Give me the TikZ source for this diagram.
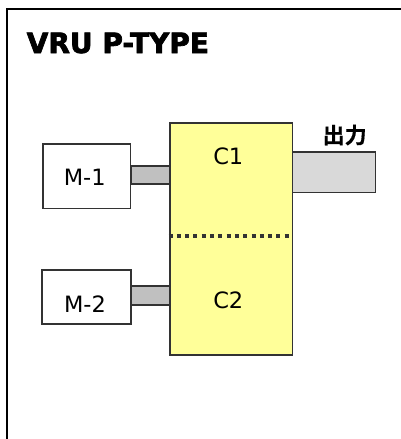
\documentclass[tikz,border=0pt]{standalone}
\usepackage{fontspec}
\setmainfont{DejaVu Sans}
\newfontfamily\heavyfont{DejaVu Sans Bold}[FakeBold=2.5]
\newfontfamily\cjk{Noto Sans CJK JP Bold}[FakeBold=0.6]
\definecolor{cyellow}{HTML}{FFFF99}
\definecolor{bargray}{HTML}{C0C0C0}
\definecolor{outgray}{HTML}{D9D9D9}
\definecolor{edge}{HTML}{333333}
\begin{document}
\begin{tikzpicture}[x=1pt,y=-1pt,
  box/.style={draw=edge,line width=1.2pt,inner sep=0pt,anchor=center},
  mbox/.style={box,fill=white},
  cbox/.style={box,fill=cyellow},
  bar/.style={box,fill=bargray},
  outbar/.style={box,fill=outgray},
  lbl/.style={inner sep=0pt,font=\fontsize{22.5}{24}\selectfont,text=black}]
\useasboundingbox (0,0) rectangle (401,439);
% frame (extends beyond the picture)
\draw[line width=2pt,black] (6.5,460) -- (6.5,8.5) -- (420,8.5);
% title
\node[inner sep=0pt,anchor=west,font=\heavyfont\fontsize{28}{30}\selectfont] (title) at (26.5,43) {VRU P-TYPE};
% main yellow block
\node[cbox,minimum width=122.5pt,minimum height=232pt] (c) at (231.25,239) {};
% motors
\node[mbox,minimum width=87.5pt,minimum height=64.7pt] (m1) at (86.75,176.35) {};
\node[mbox,minimum width=89pt,minimum height=54pt] (m2) at (86.5,297) {};
% shaft bars
\node[bar,minimum width=39pt,minimum height=18pt] (s1) at (150.5,175) {};
\node[bar,minimum width=39pt,minimum height=19pt] (s2) at (150.5,295.5) {};
% output bar
\node[outbar,minimum width=83pt,minimum height=40.7pt] (out) at (334,172.35) {};
% dotted divider
\coordinate (dl) at (168.5,235.5);
\coordinate (dr) at (291,235.5);
\draw[edge,line width=4pt,dash pattern=on 4pt off 4.3pt] (dl) -- (dr);
% labels
\node[lbl] (t1) at (228.3,156.7) {C1};
\node[lbl] (t2) at (228.3,300.3) {C2};
\node[lbl] (tm1) at (84.7,177.2) {M-1};
\node[lbl] (tm2) at (85,303.7) {M-2};
\node[inner sep=0pt,font=\cjk\fontsize{22}{24}\selectfont] (tout) at (344.7,135) {出力};
\end{tikzpicture}
\end{document}
